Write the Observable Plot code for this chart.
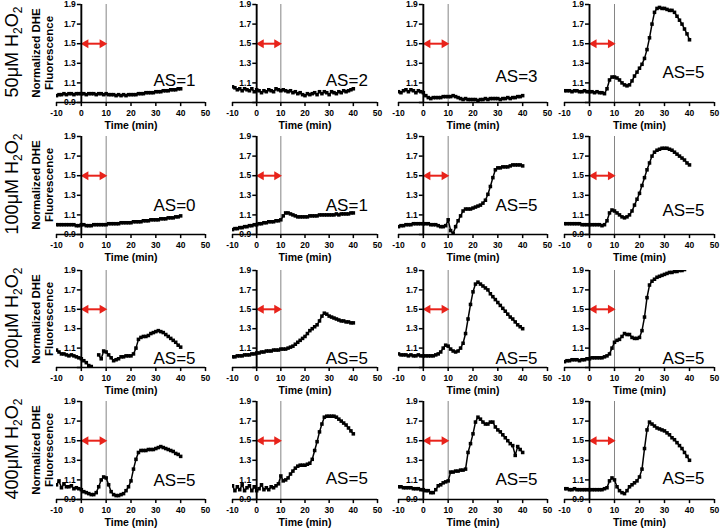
<!DOCTYPE html>
<html><head><meta charset="utf-8">
<script src="https://cdn.jsdelivr.net/npm/d3@7"></script>
<script src="https://cdn.jsdelivr.net/npm/@observablehq/plot@0.6"></script>
<style>
body{margin:0;background:#fff;}
#wrap{position:relative;width:720px;height:529px;overflow:hidden;font-family:"Liberation Sans",Arial,sans-serif;color:#000;}
.rowlab{position:absolute;transform:translate(-50%,-50%) rotate(-90deg);white-space:nowrap;font-size:18px;line-height:20px;}
.rowlab sub{font-size:12px;vertical-align:-4px;line-height:0;}
.ytitle{position:absolute;transform:translate(-50%,-50%) rotate(-90deg);white-space:nowrap;font-size:11.5px;font-weight:bold;line-height:13px;text-align:center;}
</style></head><body><div id="wrap"></div>
<script>
// ---- data ----
const time = [-10,-9,-8,-7,-6,-5,-4,-3,-2,-1,0,1,2,3,4,5,6,7,8,9,10,11,12,13,14,15,16,17,18,19,20,21,22,23,24,25,26,27,28,29,30,31,32,33,34,35,36,37,38,39,40];
const xTicks = [-10,0,10,20,30,40,50];
const yTicks = [0.9,1.1,1.3,1.5,1.7,1.9];
const rowLabels = ["50μM H<sub>2</sub>O<sub>2</sub>","100μM H<sub>2</sub>O<sub>2</sub>","200μM H<sub>2</sub>O<sub>2</sub>","400μM H<sub>2</sub>O<sub>2</sub>"];
const treatment = [{start:0, end:10, y:1.5}];
const stimulusTime = [10];

const s50a = [0.97,0.98,0.98,0.99,0.98,0.99,0.99,0.98,0.99,0.99, 0.99,0.99,0.98,0.99,0.99,0.99,0.98,0.99,0.99,0.98, 0.99,0.98,0.98,0.98,0.97,0.98,0.97,0.98,0.97,0.98, 0.98,0.98,0.98,0.99,0.99,0.99,1.00,1.00,1.00,1.00, 1.01,1.01,1.01,1.02,1.02,1.02,1.03,1.03,1.03,1.04,1.04];
const s50b = [1.06,1.05,1.03,1.04,1.02,1.04,1.03,1.02,1.04,1.01, 1.03,1.02,1.00,1.02,1.01,1.03,1.02,1.01,1.04,1.03, 1.02,1.03,1.02,1.01,1.02,1.00,1.01,0.99,1.00,0.98, 0.97,0.99,0.98,0.99,1.00,0.98,1.01,0.99,1.01,1.00, 0.98,1.01,1.00,0.99,1.01,1.00,1.02,1.01,1.02,1.03,1.04];
const s50c = [1.01,1.00,1.02,1.03,1.01,1.03,1.02,1.00,1.02,1.01, 1.00,0.97,0.95,0.94,0.95,0.95,0.95,0.95,0.96,0.96, 0.96,0.96,0.97,0.96,0.95,0.94,0.93,0.94,0.93,0.93, 0.93,0.93,0.92,0.93,0.93,0.94,0.93,0.94,0.94,0.94, 0.94,0.93,0.94,0.94,0.95,0.94,0.95,0.95,0.96,0.96,0.97];
const s50d = [1.02,1.02,1.02,1.01,1.02,1.02,1.01,1.01,1.02,1.01, 1.01,1.01,1.00,1.01,1.00,1.00,0.99,1.04,1.13,1.16, 1.16,1.15,1.13,1.10,1.08,1.07,1.08,1.12,1.17,1.21, 1.25,1.29,1.35,1.44,1.56,1.70,1.82,1.86,1.87,1.86, 1.86,1.85,1.84,1.84,1.82,1.78,1.74,1.70,1.65,1.60,1.54];

const s100a = [1.00,1.00,1.00,1.00,1.00,1.00,1.00,1.00,0.99,0.99, 1.00,1.00,0.99,0.99,0.99,1.00,1.00,1.00,1.00,1.00, 1.00,1.01,1.01,1.01,1.01,1.01,1.02,1.02,1.02,1.02, 1.02,1.03,1.03,1.03,1.03,1.04,1.04,1.04,1.05,1.05, 1.05,1.05,1.06,1.06,1.06,1.07,1.07,1.07,1.08,1.08,1.09];
const s100b = [0.95,0.96,0.96,0.97,0.97,0.98,0.98,0.99,0.99,1.00, 1.00,1.01,1.01,1.02,1.02,1.03,1.03,1.03,1.04,1.04, 1.05,1.09,1.12,1.12,1.11,1.10,1.09,1.08,1.08,1.08, 1.08,1.08,1.09,1.09,1.09,1.09,1.10,1.10,1.10,1.10, 1.10,1.10,1.10,1.11,1.10,1.11,1.11,1.11,1.11,1.12,1.12];
const s100c = [0.98,0.99,0.99,1.00,1.00,1.00,1.01,1.01,1.01,1.01, 1.01,1.01,1.01,1.00,1.00,1.00,0.99,0.98,0.98,0.99, 1.05,0.94,0.91,0.98,1.04,1.09,1.14,1.16,1.16,1.16, 1.17,1.18,1.19,1.20,1.22,1.25,1.31,1.39,1.48,1.56, 1.58,1.58,1.59,1.59,1.59,1.60,1.61,1.61,1.61,1.61,1.60];
const s100d = [1.01,1.01,1.01,1.01,1.01,1.01,1.01,1.00,1.00,1.00, 1.00,1.00,1.00,1.00,1.00,0.99,1.00,1.04,1.12,1.15, 1.14,1.12,1.10,1.08,1.07,1.08,1.10,1.14,1.20,1.26, 1.32,1.40,1.48,1.56,1.63,1.70,1.74,1.76,1.77,1.78, 1.78,1.78,1.77,1.76,1.74,1.72,1.70,1.68,1.66,1.63,1.61];

const s200a = [1.08,1.06,1.04,1.04,1.03,1.02,1.03,1.02,1.01,1.00, 0.99,0.97,0.95,0.92,0.91,0.88,null,1.03,0.99,1.07, 1.06,1.03,1.00,0.97,0.98,0.99,1.01,1.01,1.02,1.02, 1.02,1.04,1.10,1.19,1.21,1.22,1.22,1.23,1.25,1.26, 1.27,1.28,1.27,1.26,1.24,1.22,1.20,1.18,1.16,1.13,1.11];
const s200b = [1.01,1.01,1.02,1.02,1.02,1.03,1.03,1.03,1.04,1.04, 1.05,1.05,1.06,1.06,1.07,1.07,1.07,1.08,1.08,1.08, 1.09,1.09,1.09,1.10,1.11,1.12,1.14,1.16,1.18,1.20, 1.22,1.25,1.28,1.30,1.32,1.34,1.38,1.43,1.46,1.45, 1.43,1.42,1.41,1.40,1.39,1.38,1.38,1.37,1.37,1.36,1.36];
const s200c = [1.04,1.03,1.03,1.03,1.02,1.03,1.02,1.02,1.03,1.02, 1.02,1.02,1.02,1.02,1.02,1.03,1.04,1.06,1.10,1.13, 1.12,1.09,1.07,1.06,1.07,1.10,1.15,1.25,1.40,1.55, 1.68,1.76,1.78,1.76,1.74,1.72,1.70,1.66,1.63,1.60, 1.57,1.54,1.51,1.48,1.45,1.42,1.40,1.37,1.34,1.32,1.30];
const s200d = [0.96,0.97,0.97,0.98,0.98,0.98,0.97,0.98,0.98,0.99, 0.99,1.00,1.00,1.00,1.00,1.00,1.01,1.02,1.04,1.10, 1.16,1.18,1.19,1.22,1.25,1.24,1.24,1.21,1.20,1.20, 1.21,1.28,1.42,1.62,1.75,1.79,1.81,1.83,1.84,1.85, 1.86,1.87,1.88,1.88,1.89,1.89,1.90,1.90,1.91,null,null];

const s400a = [1.05,1.09,1.02,1.06,1.03,1.03,1.04,1.01,1.02,1.01, 1.00,0.98,0.97,0.96,0.95,0.95,0.97,1.03,1.10,1.13, 1.12,1.05,0.98,0.95,0.94,0.94,0.95,0.96,0.99,1.03, 1.09,1.21,1.31,1.38,1.40,1.40,1.40,1.41,1.41,1.41, 1.42,1.43,1.44,1.43,1.42,1.41,1.40,1.39,1.37,1.36,1.34];
const s400b = [1.04,0.99,1.03,1.00,1.05,0.99,1.02,1.04,0.99,1.03, 0.99,1.01,1.05,1.00,1.02,1.00,1.03,1.02,1.04,1.06, 1.14,1.09,1.10,1.12,1.16,1.19,1.22,1.24,1.25,1.25, 1.25,1.26,1.27,1.31,1.40,1.49,1.59,1.67,1.74,1.75, 1.75,1.75,1.75,1.74,1.72,1.70,1.68,1.66,1.63,1.60,1.57];
const s400c = [1.03,1.03,1.02,1.02,1.02,1.02,1.01,1.01,1.01,1.00, 1.00,0.99,0.99,0.97,0.97,1.00,1.04,1.05,1.07,1.08, 1.09,1.18,1.18,1.19,1.19,1.20,1.20,1.21,1.38,1.47, 1.57,1.69,1.74,1.72,1.69,1.67,1.67,1.69,1.69,1.64, 1.61,1.59,1.56,1.53,1.50,1.47,1.45,1.35,1.44,1.41,1.38];
const s400d = [1.01,1.01,1.00,1.00,1.01,1.00,1.00,1.00,1.00,1.00, 1.00,1.00,1.00,1.00,1.00,1.00,1.01,1.02,1.09,1.12, 1.10,1.03,0.99,0.97,0.96,0.99,1.03,1.05,1.07,1.09, 1.13,1.21,1.42,1.61,1.69,1.67,1.65,1.63,1.62,1.61, 1.60,1.58,1.56,1.53,1.51,1.48,1.45,1.42,1.38,1.34,1.30];

const series = [[s50a,s50b,s50c,s50d],[s100a,s100b,s100c,s100d],[s200a,s200b,s200c,s200d],[s400a,s400b,s400c,s400d]];
const asLabels = [["AS=1","AS=2","AS=3","AS=5"],["AS=0","AS=1","AS=5","AS=5"],["AS=5","AS=5","AS=5","AS=5"],["AS=5","AS=5","AS=5","AS=5"]];
const asY = [[1.12,1.12,1.16,1.21],[1.20,1.20,1.20,1.145],[0.99,0.99,0.99,0.99],[1.095,1.11,1.10,1.115]];
const showBottomLabel = [[1,0,0,0],[1,1,0,1],[0,0,0,0],[1,1,1,1]];

// ---- layout ----
const colLeft = [56,232,398,564], colW = [149,145,149,150];
const rowTop = [4,136,270,401], rowH = [98,98,97,98];
const ML = 40, MR = 12, MT = 8, MB = 32;
const RED = "#e8231b";
const FONT = "'Liberation Sans', Arial, sans-serif";
const wrap = document.getElementById("wrap");
const xExt = d3.extent(xTicks), yExt = d3.extent(yTicks);

for (let r = 0; r < 4; r++) {
  const lab = document.createElement("div");
  lab.className = "rowlab";
  lab.innerHTML = rowLabels[r];
  lab.style.left = "12px"; lab.style.top = (rowTop[r] + 48) + "px";
  wrap.appendChild(lab);
  const yt = document.createElement("div");
  yt.className = "ytitle";
  yt.innerHTML = "Normalized DHE<br>Fluorescence";
  yt.style.left = "43px"; yt.style.top = (rowTop[r] + 49) + "px";
  wrap.appendChild(yt);

  for (let c = 0; c < 4; c++) {
    const vals = series[r][c];
    const data = time.map((t, i) => ({t, v: vals[i]}));
    const pts = data.filter(d => d.v != null);
    const yT = showBottomLabel[r][c] ? yTicks : yTicks.slice(1);
    const svg = Plot.plot({
      width: ML + colW[c] + MR, height: MT + rowH[r] + MB,
      marginLeft: ML, marginRight: MR, marginTop: MT, marginBottom: MB,
      x: {domain: xExt, axis: null},
      y: {domain: yExt, axis: null},
      style: {position: "absolute", left: (colLeft[c] - ML) + "px", top: (rowTop[r] - MT) + "px",
              overflow: "visible", background: "transparent", fontFamily: FONT, color: "#000"},
      marks: [
        Plot.ruleX(stimulusTime, {x: d => d, y1: yExt[0], y2: yExt[1], stroke: "#666", strokeWidth: 0.8}),
        Plot.ruleY(treatment, {y: "y", x1: "start", x2: "end", stroke: RED, strokeWidth: 2, insetLeft: 5, insetRight: 5}),
        Plot.dot(treatment, {x: "start", y: "y", symbol: "triangle", rotate: -90, r: 3.3, fill: RED, stroke: null, dx: 4.5}),
        Plot.dot(treatment, {x: "end", y: "y", symbol: "triangle", rotate: 90, r: 3.3, fill: RED, stroke: null, dx: -4}),
        Plot.line(data, {x: "t", y: "v", stroke: "#000", strokeWidth: 1.5, clip: true}),
        Plot.dot(pts, {x: "t", y: "v", symbol: "square", r: 2.0, fill: "#000", stroke: null, clip: true}),
        Plot.ruleY([yExt[0]], {x1: xExt[0], x2: xExt[1], stroke: "#000", strokeWidth: 1.7}),
        Plot.ruleX(xTicks, {x: d => d, y1: yExt[0], y2: yExt[0] - 0.042, stroke: "#000", strokeWidth: 1.5}),
        Plot.text(xTicks, {x: d => d, y: yExt[0], dy: 10.5, text: d => String(d), fontWeight: "bold", fontSize: 8.5}),
        Plot.text(["Time (min)"], {x: 20, y: yExt[0], dy: 23.5, text: d => d, fontWeight: "bold", fontSize: 10.5}),
        Plot.ruleX([0], {x: d => d, y1: yExt[0], y2: yExt[1], stroke: "#000", strokeWidth: 1.9}),
        Plot.ruleY(yTicks, {y: d => d, x1: -1.6, x2: 0, stroke: "#000", strokeWidth: 1.5}),
        Plot.text(yT, {x: 0, y: d => d, dx: -5.5, textAnchor: "end", text: d => d.toFixed(1), fontWeight: "bold", fontSize: 8.5}),
        Plot.text([asLabels[r][c]], {x: 46, y: asY[r][c], text: d => d, textAnchor: "end", fontSize: 17})
      ]
    });
    wrap.appendChild(svg);
  }
}
</script></body></html>
